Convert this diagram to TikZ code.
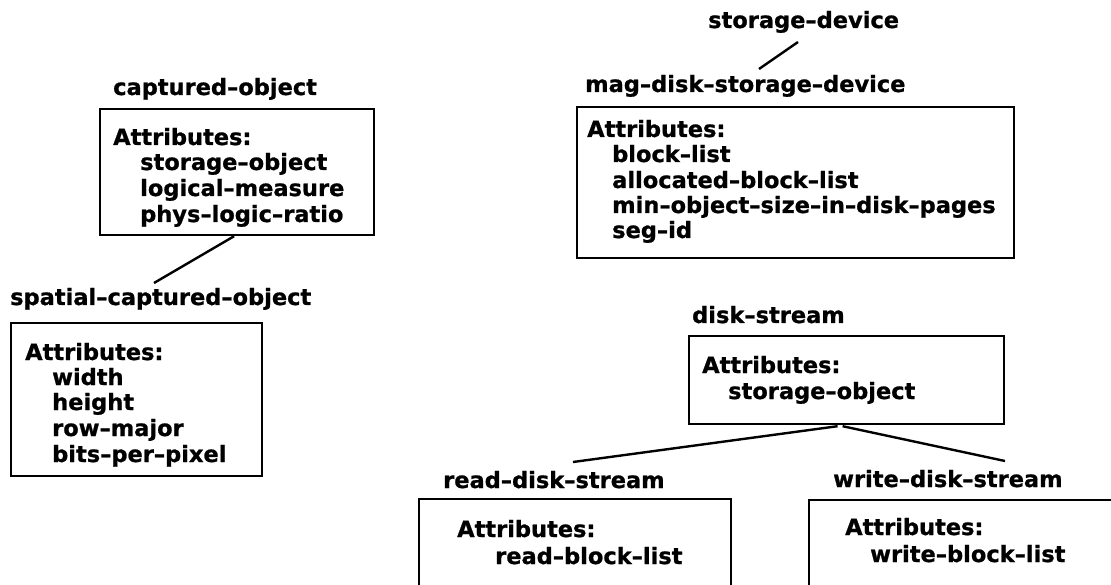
\documentclass[tikz,border=0pt]{standalone}
\usepackage{fontspec}
\setmainfont{DejaVu Sans}[BoldFeatures={FakeBold=0.9}]
\usetikzlibrary{calc}
\begin{document}
\begin{tikzpicture}[x=1pt,y=-1pt,
  lbl/.style={anchor=base west, inner sep=0pt, font=\fontsize{22.5}{25.5}\selectfont\bfseries},
  box/.style={draw, line width=2.2pt, anchor=north west, inner sep=0pt},
  conn/.style={line width=2.4pt}]
\useasboundingbox (0,0) rectangle (1111,585);
\clip (0,0) rectangle (1111,585);

% captured-object
\node[lbl] (col) at (113,95) {captured–object};
\node[box, minimum width=274, minimum height=126] (cob) at (99,108) {};
\node[lbl] (co0) at (113,145) {Attributes:};
\node[lbl] (co1) at (140,170) {storage–object};
\node[lbl] (co2) at (140,196) {logical–measure};
\node[lbl] (co3) at (140,222) {phys–logic–ratio};

% spatial-captured-object
\node[lbl] (scl) at (10,305) {spatial–captured–object};
\node[box, minimum width=251, minimum height=153] (scb) at (10,322) {};
\node[lbl] (sc0) at (25,360) {Attributes:};
\node[lbl] (sc1) at (52,385) {width};
\node[lbl] (sc2) at (52,410) {height};
\node[lbl] (sc3) at (52,436) {row–major};
\node[lbl] (sc4) at (52,462) {bits–per–pixel};
\draw[conn] ($(cob.south)+(-3,0)$) -- ($(scl.base west)+(144,-22)$);

% storage-device / mag-disk-storage-device
\node[lbl] (sd) at (708,28) {storage–device};
\node[lbl] (mdl) at (585,92) {mag–disk–storage–device};
\draw[conn] ($(sd.base west)+(90,14)$) -- ($(mdl.base west)+(174,-23)$);
\node[box, minimum width=437, minimum height=151] (mdb) at (576,106) {};
\node[lbl] (md0) at (587,137) {Attributes:};
\node[lbl] (md1) at (612,162) {block–list};
\node[lbl] (md2) at (612,188) {allocated–block–list};
\node[lbl] (md3) at (612,213) {min–object–size–in–disk–pages};
\node[lbl] (md4) at (612,238) {seg–id};

% disk-stream
\node[lbl] (dsl) at (692,323) {disk–stream};
\node[box, minimum width=315, minimum height=88] (dsb) at (688,335) {};
\node[lbl] (ds0) at (702,373) {Attributes:};
\node[lbl] (ds1) at (728,399) {storage–object};

% read-disk-stream
\node[lbl] (rdl) at (443,488) {read–disk–stream};
\node[box, minimum width=312, minimum height=150] (rdb) at (418,498) {};
\node[lbl] (rd0) at (457,537) {Attributes:};
\node[lbl] (rd1) at (495,564) {read–block–list};

% write-disk-stream
\node[lbl] (wdl) at (833,487) {write–disk–stream};
\node[box, minimum width=400, minimum height=150] (wdb) at (808,499) {};
\node[lbl] (wd0) at (845,535) {Attributes:};
\node[lbl] (wd1) at (870,562) {write–block–list};

\draw[conn] ($(dsb.south)+(-9,1)$) -- ($(rdl.base west)+(130,-26)$);
\draw[conn] ($(dsb.south)+(-4,1)$) -- ($(wdl.base west)+(172,-26)$);
\end{tikzpicture}
\end{document}
